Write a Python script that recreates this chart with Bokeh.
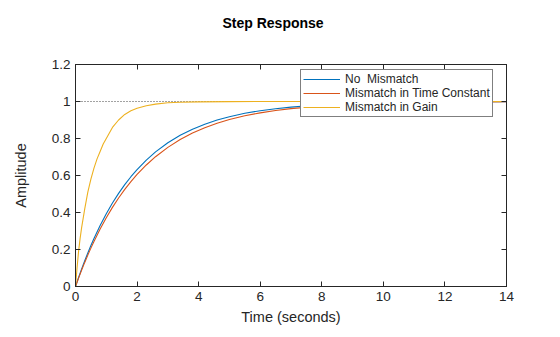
from bokeh.plotting import figure
from bokeh.models import LinearAxis, Range1d, Legend, LegendItem, FixedTicker, Title
from bokeh.embed import file_html
from bokeh.resources import INLINE

# ---- data ----
t = [0, 0.1, 0.2, 0.3, 0.4, 0.5, 0.6, 0.8, 1.0, 1.2, 1.4, 1.6, 1.8, 2.0, 2.3, 2.6,
     3.0, 3.4, 3.8, 4.2, 4.6, 5.0, 5.5, 6.0, 6.5, 7.0, 8.0, 9.0, 10, 11, 12, 13, 14]
no_mismatch = [0, 0.0488, 0.0952, 0.1393, 0.1813, 0.2212, 0.2592, 0.3297, 0.3935, 0.4512,
               0.5034, 0.5507, 0.5934, 0.6321, 0.6834, 0.7275, 0.7769, 0.8173, 0.8504,
               0.8775, 0.8997, 0.9179, 0.9361, 0.9502, 0.9612, 0.9698, 0.9817, 0.9889,
               0.9933, 0.9959, 0.9975, 0.9985, 0.9991]
mismatch_tc = [0, 0.0454, 0.0888, 0.1302, 0.1697, 0.2075, 0.2435, 0.3107, 0.3719, 0.4277,
               0.4786, 0.5249, 0.5671, 0.6055, 0.6569, 0.7016, 0.7522, 0.7943, 0.8292,
               0.8582, 0.8823, 0.9023, 0.9226, 0.9386, 0.9514, 0.9614, 0.9758, 0.9848,
               0.9905, 0.9940, 0.9962, 0.9976, 0.9985]
t_gain = [0, 0.05, 0.1, 0.15, 0.2, 0.3, 0.4, 0.5, 0.6, 0.7, 0.8, 0.9, 1.0, 1.2, 1.4,
          1.6, 1.8, 2.0, 2.3, 2.6, 3.0, 3.4, 4.0, 5, 6, 8, 10, 12, 14]
mismatch_gain = [0, 0.10, 0.19, 0.26, 0.32, 0.42, 0.51, 0.58, 0.64, 0.69, 0.73, 0.77,
                 0.80, 0.86, 0.90, 0.93, 0.95, 0.963, 0.977, 0.986, 0.993, 0.996,
                 0.998, 0.9995, 1.0, 1.0, 1.0, 1.0, 1.0]
ref_t = [0, 14]
ref_y = [1, 1]
title_text = "Step Response"
series_names = ["No  Mismatch", "Mismatch in Time Constant", "Mismatch in Gain"]
x_ticks = [0, 2, 4, 6, 8, 10, 12, 14]
x_tick_labels = ["0", "2", "4", "6", "8", "10", "12", "14"]
y_ticks = [0, 0.2, 0.4, 0.6, 0.8, 1.0, 1.2]
y_tick_labels = ["0", "0.2", "0.4", "0.6", "0.8", "1", "1.2"]

FONT = "Liberation Sans"
TXT = "#262626"

p = figure(width=560, height=337, output_backend="svg", toolbar_location=None,
           x_range=Range1d(0, 14), y_range=Range1d(0, 1.2),
           min_border_left=75, min_border_right=54, min_border_top=58,
           min_border_bottom=51, x_axis_label="Time (seconds)", y_axis_label="Amplitude")
p.title = Title(text=title_text, align="left", text_font=FONT,
                text_font_size="14px", text_font_style="bold", text_color="#000000",
                offset=147, standoff=24)
p.xgrid.visible = False
p.ygrid.visible = False
p.outline_line_color = TXT
p.background_fill_color = "white"
p.border_fill_color = "white"

p.line(ref_t, ref_y, line_color="#444444", line_dash="1 2", line_width=1)
r1 = p.line(t, no_mismatch, line_color="#0072BD", line_width=1.1)
r2 = p.line(t, mismatch_tc, line_color="#D95319", line_width=1.1)
r3 = p.line(t_gain, mismatch_gain, line_color="#EDB120", line_width=1.1)

def style_axis(ax, ticks, labels, show_labels=True):
    ax.ticker = FixedTicker(ticks=ticks)
    ax.major_label_overrides = {tk: lb for tk, lb in zip(ticks, labels)}
    ax.major_tick_in = 5
    ax.major_tick_out = 0
    ax.minor_tick_line_color = None
    ax.axis_line_color = TXT
    ax.major_tick_line_color = TXT
    ax.major_label_text_font = FONT
    ax.major_label_text_font_size = "13.5px"
    ax.major_label_text_color = TXT if show_labels else None
    ax.axis_label_text_font = FONT
    ax.axis_label_text_font_size = "14.5px"
    ax.axis_label_text_font_style = "normal"
    ax.axis_label_text_color = TXT

style_axis(p.xaxis[0], x_ticks, x_tick_labels)
style_axis(p.yaxis[0], y_ticks, y_tick_labels)
p.xaxis[0].major_label_standoff = 5
p.xaxis[0].axis_label_standoff = 5
p.yaxis[0].major_label_standoff = 5
p.yaxis[0].axis_label_standoff = 20

top = LinearAxis()
style_axis(top, x_ticks, x_tick_labels, show_labels=False)
top.major_label_text_font_size = "0px"
p.add_layout(top, "above")
# blank spacer between the top axis and the title
p.add_layout(Title(text=" ", text_font=FONT, text_font_size="18px", standoff=0), "above")
right = LinearAxis()
style_axis(right, y_ticks, y_tick_labels, show_labels=False)
right.major_label_text_font_size = "0px"
p.add_layout(right, "right")

legend = Legend(items=[LegendItem(label=series_names[0], renderers=[r1]),
                       LegendItem(label=series_names[1], renderers=[r2]),
                       LegendItem(label=series_names[2], renderers=[r3])],
                location=(225, 169), orientation="vertical",
                label_text_font=FONT, label_text_font_size="12px", label_text_color=TXT,
                glyph_width=37, glyph_height=14, label_height=14, label_standoff=5,
                spacing=0, padding=2, margin=0,
                border_line_color="#000000", border_line_width=1,
                background_fill_color="white", background_fill_alpha=1)
p.add_layout(legend, "center")

open("out.html", "w").write(file_html(p, INLINE))
